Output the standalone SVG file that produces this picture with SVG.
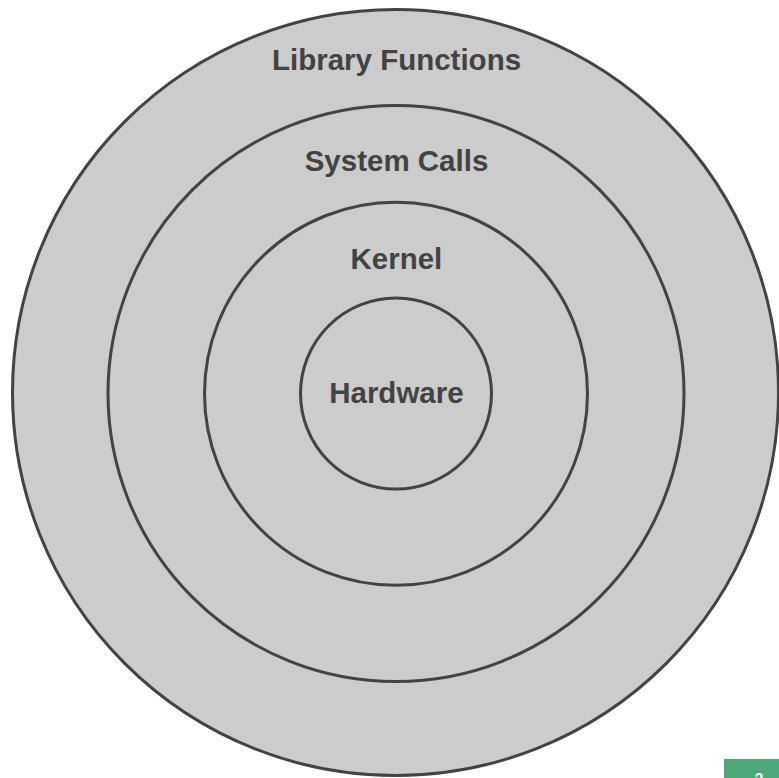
<svg xmlns="http://www.w3.org/2000/svg" width="779" height="778" viewBox="0 0 779 778">
<style>
.ring{fill:#cccccc;stroke:#434343;stroke-width:3}
.lbl{font-family:"Liberation Sans",Arial,sans-serif;font-weight:bold;font-size:29.5px;fill:#434343;text-anchor:middle}
.pg{font-family:"Liberation Sans",Arial,sans-serif;font-weight:bold;font-size:16px;fill:#ffffff;text-anchor:middle}
</style>
<rect width="779" height="778" fill="#ffffff"/>
<g id="library-functions">
<circle class="ring" cx="395.5" cy="392.5" r="383"/>
<text class="lbl" x="396.5" y="70">Library Functions</text>
</g>
<g id="system-calls">
<circle class="ring" cx="396" cy="393.5" r="288"/>
<text class="lbl" x="396.5" y="170.5">System Calls</text>
</g>
<g id="kernel">
<circle class="ring" cx="396" cy="393.8" r="191.5"/>
<text class="lbl" x="396.4" y="269">Kernel</text>
</g>
<g id="hardware">
<circle class="ring" cx="396" cy="393.5" r="95.5"/>
<text class="lbl" x="396.4" y="403">Hardware</text>
</g>
<g id="connectors"></g>
<g id="page-badge">
<rect x="724" y="759" width="60" height="30" fill="#4ca879"/>
<text class="pg" x="759" y="785">2</text>
</g>
</svg>
